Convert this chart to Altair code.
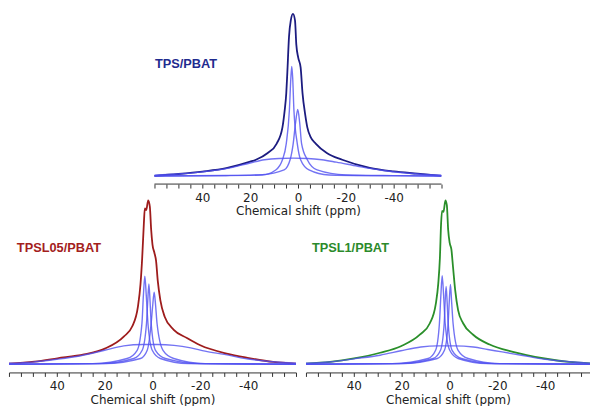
import altair as alt
import pandas as pd

# ---------------- TPS/PBAT (top panel) ----------------
TPS_TOTAL_PPM = [60, 50, 40, 30, 20, 17.6, 12.8, 8.9, 6.5, 5.6, 4.9, 4.45, 3.75, 3.0, 2.1, 1.25, 0.7, -0.1, -1.1, -1.9, -3.0, -3.9, -5.3, -7.4, -12.2, -18.5, -30, -40, -50, -60]
TPS_TOTAL_VAL = [0.0, 0.012, 0.027, 0.048, 0.088, 0.1, 0.14, 0.2, 0.3, 0.4, 0.51, 0.64, 0.86, 0.96, 1.0, 0.96, 0.81, 0.73, 0.67, 0.51, 0.38, 0.3, 0.24, 0.2, 0.14, 0.1, 0.05, 0.028, 0.014, 0.0]
TPS_C1_PPM = [60, 30, 15, 9.3, 6.5, 4.9, 3.6, 3.0, 2.6, 2.2, 1.7, 0.3, -1.1, -4.6, -13, -30, -60]
TPS_C1_VAL = [0.0, 0.002, 0.006, 0.037, 0.1, 0.2, 0.405, 0.6, 0.675, 0.6, 0.405, 0.2, 0.1, 0.037, 0.006, 0.002, 0.0]
TPS_C2_PPM = [60, 30, 15, 5.8, 3.3, 2.0, 1.0, 0.1, -0.7, -1.5, -3.9, -8, -20, -40, -60]
TPS_C2_VAL = [0.0, 0.003, 0.008, 0.037, 0.1, 0.2, 0.33, 0.41, 0.33, 0.2, 0.1, 0.037, 0.006, 0.002, 0.0]
TPS_C3_PPM = [60, 50, 40, 30, 20, 14, 8, 2, -4, -10, -16, -25, -35, -45, -60]
TPS_C3_VAL = [0.005, 0.012, 0.025, 0.045, 0.08, 0.1, 0.108, 0.11, 0.108, 0.1, 0.085, 0.06, 0.035, 0.018, 0.004]

# ---------------- TPSL05/PBAT (bottom left) ----------------
L05_TOTAL_PPM = [60, 49.4, 39.7, 28.6, 19.9, 11.9, 8.5, 6.1, 5.0, 4.3, 3.6, 3.2, 2.6, 1.8, 1.1, 0.55, 0.0, -0.8, -1.5, -2.2, -3.3, -5.1, -8.9, -14.4, -20, -31, -39.7, -50.5, -60]
L05_TOTAL_VAL = [0.004, 0.016, 0.036, 0.06, 0.095, 0.17, 0.23, 0.35, 0.49, 0.65, 0.86, 0.95, 0.94, 1.0, 0.96, 0.82, 0.73, 0.68, 0.63, 0.51, 0.39, 0.29, 0.21, 0.16, 0.116, 0.065, 0.039, 0.014, 0.004]
L05_A_PPM = [60, 25, 10.6, 6.4, 4.4, 3.8, 3.2, 2.6, 1.9, 0.1, -3.3, -15, -60]
L05_A_VAL = [0.0, 0.004, 0.035, 0.085, 0.25, 0.42, 0.537, 0.42, 0.25, 0.085, 0.035, 0.004, 0.0]
L05_B_PPM = [60, 22, 7.8, 4.3, 2.5, 2.0, 1.5, 1.0, 0.55, -1.25, -5.4, -20, -60]
L05_B_VAL = [0.0, 0.004, 0.035, 0.085, 0.25, 0.38, 0.49, 0.38, 0.25, 0.085, 0.035, 0.004, 0.0]
L05_C_PPM = [60, 20, 5.0, 2.2, 0.55, -0.1, -0.7, -1.3, -1.9, -4.4, -8.9, -22, -60]
L05_C_VAL = [0.0, 0.004, 0.035, 0.085, 0.25, 0.36, 0.44, 0.36, 0.25, 0.085, 0.035, 0.004, 0.0]
L05_D_PPM = [60, 50, 40, 30, 20, 12, 4, -2, -9, -16, -22, -30, -40, -50, -60]
L05_D_VAL = [0.006, 0.013, 0.03, 0.052, 0.085, 0.112, 0.12, 0.12, 0.115, 0.1, 0.08, 0.06, 0.032, 0.015, 0.006]

# ---------------- TPSL1/PBAT (bottom right) ----------------
L1_TOTAL_PPM = [60, 49.9, 39.9, 29, 20.3, 12.4, 8.2, 5.7, 4.7, 4.0, 3.5, 3.1, 2.5, 1.7, 1.1, 0.55, -0.1, -0.8, -1.5, -2.4, -3.6, -5.7, -9.9, -16.8, -26.5, -39.7, -50, -60]
L1_TOTAL_VAL = [0.004, 0.014, 0.035, 0.07, 0.11, 0.18, 0.25, 0.37, 0.49, 0.65, 0.86, 0.935, 0.93, 1.0, 0.97, 0.82, 0.74, 0.7, 0.59, 0.45, 0.33, 0.25, 0.18, 0.12, 0.075, 0.035, 0.014, 0.004]
L1_A_PPM = [60, 24, 8.9, 5.8, 4.2, 3.6, 3.05, 2.45, 1.8, -0.1, -3.6, -16, -60]
L1_A_VAL = [0.0, 0.004, 0.035, 0.085, 0.25, 0.42, 0.54, 0.42, 0.25, 0.085, 0.035, 0.004, 0.0]
L1_B_PPM = [60, 21, 6.8, 3.75, 2.2, 1.85, 1.4, 0.95, 0.55, -1.1, -5.0, -19, -60]
L1_B_VAL = [0.0, 0.004, 0.035, 0.085, 0.25, 0.37, 0.475, 0.37, 0.25, 0.085, 0.035, 0.004, 0.0]
L1_C_PPM = [60, 20, 5.1, 2.1, 0.55, 0.1, -0.4, -0.9, -1.5, -3.6, -7.8, -21, -60]
L1_C_VAL = [0.0, 0.004, 0.035, 0.085, 0.25, 0.38, 0.486, 0.38, 0.25, 0.085, 0.035, 0.004, 0.0]
L1_D_PPM = [60, 50, 40, 29, 20.3, 12, 5, -2, -10, -16, -22, -30, -40, -50, -60]
L1_D_VAL = [0.006, 0.014, 0.033, 0.055, 0.082, 0.105, 0.112, 0.112, 0.105, 0.09, 0.075, 0.055, 0.03, 0.015, 0.006]

# labels
SAMPLE_NAMES = ["TPS/PBAT", "TPSL05/PBAT", "TPSL1/PBAT"]
SAMPLE_COLORS = ["#1c1c80", "#9e1c1c", "#2a8f2a"]
LABEL_TEXT_COLORS = ["#1f2b8f", "#a3201c", "#2b8a2b"]
LABEL_PPM = [59.8, 56.7, 57.5]
LABEL_VAL = [0.69, 0.71, 0.71]

AXIS_RANGE = [60, -60]          # extent of the drawn chemical-shift axis
COMP_COLOR = "#5050f0"
X_TITLE = "Chemical shift (ppm)"
Y_DOMAIN = [-0.05, 1.02]


def long_df(curves):
    rows = []
    for name, ppm, val in curves:
        for p, v in zip(ppm, val):
            rows.append({"series": name, "ppm": p, "val": v})
    return pd.DataFrame(rows)


def panel(total, comps, idx, x_domain, ticks, width, height, axis_line=False, title_x=None):
    xs = alt.Scale(domain=x_domain, nice=False, zero=False)
    ys = alt.Scale(domain=Y_DOMAIN, nice=False, zero=False)
    axis_kw = dict(
        title=X_TITLE, values=ticks, grid=False,
        labelExpr="(abs(datum.value) <= 40 && datum.value % 20 == 0) ? toString(datum.value) : ''",
        labelOverlap=False, labelFont="DejaVu Sans", labelFontSize=12, labelColor="#222",
        titleFont="DejaVu Sans", titleFontSize=12, titleFontWeight="normal", titleColor="#222",
        titlePadding=3, tickSize=4, labelPadding=4, domainColor="#333", tickColor="#333",
        domainWidth=1, tickWidth=1, domain=not axis_line,
    )
    if title_x is not None:
        axis_kw["titleX"] = title_x
    axis = alt.Axis(**axis_kw)
    comp_df = long_df(comps)
    tot_df = long_df([("total", total[0], total[1])])
    lab_df = pd.DataFrame({"ppm": [LABEL_PPM[idx]], "val": [LABEL_VAL[idx]], "t": [SAMPLE_NAMES[idx]]})

    layers = []
    if axis_line:
        ax_df = pd.DataFrame({"ppm": [AXIS_RANGE[0]], "ppm2": [AXIS_RANGE[1]], "val": [Y_DOMAIN[0]]})
        layers.append(alt.Chart(ax_df).mark_rule(color="#333", strokeWidth=1).encode(
            x=alt.X("ppm:Q", scale=xs, axis=axis), x2="ppm2:Q",
            y=alt.Y("val:Q", scale=ys, axis=None),
        ))
    layers.append(alt.Chart(tot_df).mark_line(
        color=SAMPLE_COLORS[idx], strokeWidth=1.8, interpolate="monotone", clip=True
    ).encode(
        x=alt.X("ppm:Q", scale=xs, axis=axis),
        y=alt.Y("val:Q", scale=ys, axis=None),
    ))
    layers.append(alt.Chart(comp_df).mark_line(
        color=COMP_COLOR, strokeWidth=1.4, opacity=0.8, interpolate="monotone", clip=True
    ).encode(
        x=alt.X("ppm:Q", scale=xs, axis=axis),
        y=alt.Y("val:Q", scale=ys, axis=None),
        detail="series:N",
    ))
    layers.append(alt.Chart(lab_df).mark_text(
        align="left", baseline="middle", fontWeight="bold", fontSize=12.8,
        font="Liberation Sans", color=LABEL_TEXT_COLORS[idx]
    ).encode(
        x=alt.X("ppm:Q", scale=xs, axis=axis),
        y=alt.Y("val:Q", scale=ys, axis=None),
        text="t:N",
    ))
    return alt.layer(*layers).properties(width=width, height=height)


full_ticks = list(range(-60, 61, 5))
right_ticks = list(range(-55, 61, 5))

# top panel: plot area extends left to line up with the bottom row; axis drawn only over 60..-60 ppm
top = panel((TPS_TOTAL_PPM, TPS_TOTAL_VAL),
            [("c1", TPS_C1_PPM, TPS_C1_VAL), ("c2", TPS_C2_PPM, TPS_C2_VAL), ("c3", TPS_C3_PPM, TPS_C3_VAL)],
            0, [120.8333, -60], full_ticks, 434, 174, axis_line=True, title_x=290)
bl = panel((L05_TOTAL_PPM, L05_TOTAL_VAL),
           [("a", L05_A_PPM, L05_A_VAL), ("b", L05_B_PPM, L05_B_VAL), ("c", L05_C_PPM, L05_C_VAL), ("d", L05_D_PPM, L05_D_VAL)],
           1, [60, -60], full_ticks, 288, 176)
br = panel((L1_TOTAL_PPM, L1_TOTAL_VAL),
           [("a", L1_A_PPM, L1_A_VAL), ("b", L1_B_PPM, L1_B_VAL), ("c", L1_C_PPM, L1_C_VAL), ("d", L1_D_PPM, L1_D_VAL)],
           2, [60, -58.75], right_ticks, 285, 176)

bottom = alt.hconcat(bl, br, spacing=8)
chart = alt.vconcat(top, bottom, spacing=13, bounds="flush").properties(
    padding={"left": 8, "top": 10, "right": 0, "bottom": 0},
    background="white",
).configure_view(stroke="transparent", strokeWidth=0)

chart.save("out.html", embed_options={"renderer": "svg", "actions": False})
